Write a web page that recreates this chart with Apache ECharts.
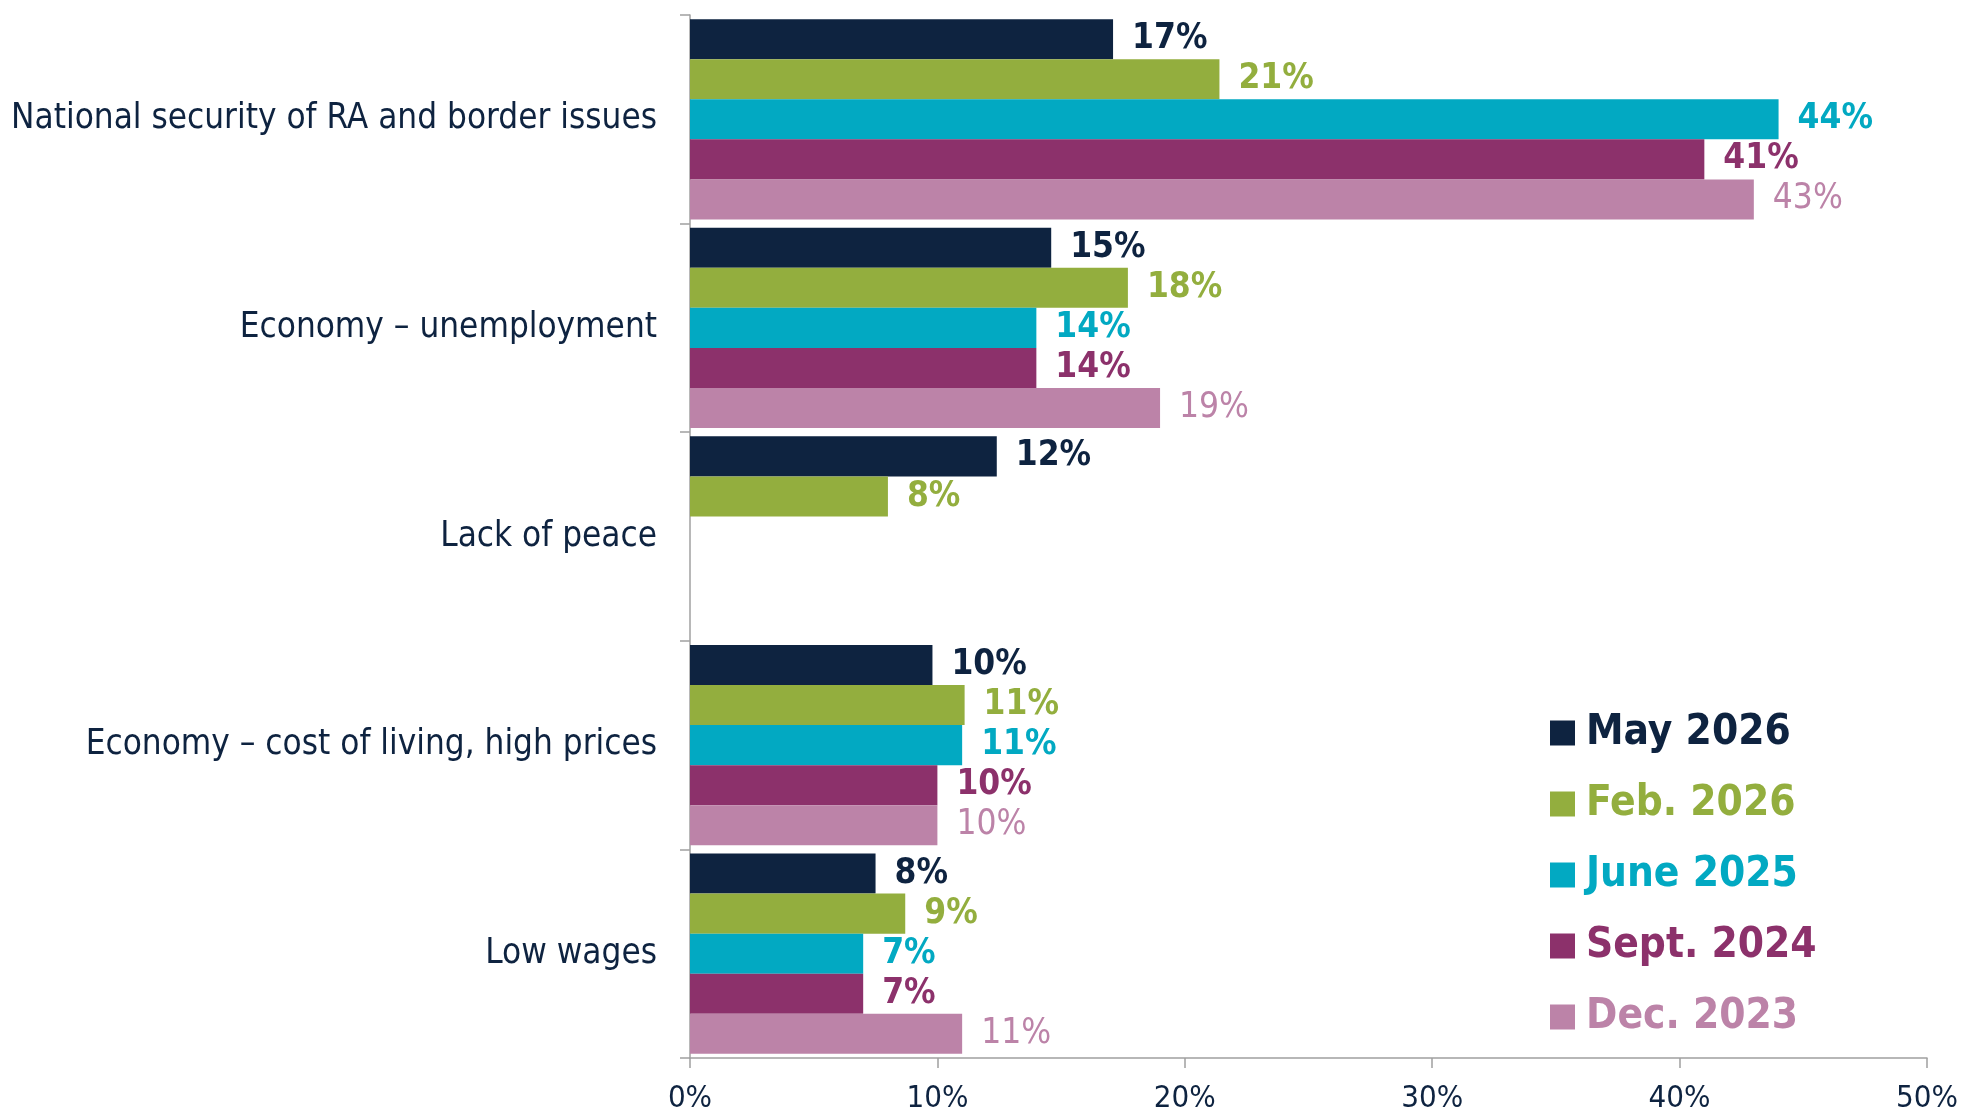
<!DOCTYPE html>
<html>
<head>
<meta charset="utf-8">
<script src="https://cdn.jsdelivr.net/npm/echarts@6/dist/echarts.min.js"></script>
<style>
html,body{margin:0;padding:0;background:#fff;}
#chart{width:1961px;height:1120px;}
</style>
</head>
<body>
<div id="chart"></div>
<script>
const categories = [
  'National security of RA and border issues',
  'Economy \u2013 unemployment',
  'Lack of peace',
  'Economy \u2013 cost of living, high prices',
  'Low wages'
];
const seriesNames = ['May 2026', 'Feb. 2026', 'June 2025', 'Sept. 2024', 'Dec. 2023'];
const may2026  = [17.1, 14.6, 12.4, 9.8, 7.5];
const feb2026  = [21.4, 17.7, 8.0, 11.1, 8.7];
const june2025 = [44.0, 14.0, null, 11.0, 7.0];
const sept2024 = [41.0, 14.0, null, 10.0, 7.0];
const dec2023  = [43.0, 19.0, null, 10.0, 11.0];
const xTicks = { min: 0, max: 50, interval: 10 };

const seriesData = [may2026, feb2026, june2025, sept2024, dec2023];
const colors = ['#0E2340', '#93AE3E', '#02A9C2', '#8C316B', '#BC83A8'];
const labelWeights = ['bold', 'bold', 'bold', 'bold', 'normal'];
const navy = '#0E2340';
const axisGray = '#A0A0A0';
const FONT = '"DejaVu Sans Condensed", "DejaVu Sans", sans-serif';

const chart = echarts.init(document.getElementById('chart'), null, { renderer: 'canvas' });

const series = seriesNames.map((name, i) => ({
  name: name,
  type: 'bar',
  data: seriesData[i],
  barGap: '0%',
  barCategoryGap: '4%',
  itemStyle: { color: colors[i] },
  label: {
    show: true,
    position: 'right',
    distance: 19,
    color: colors[i],
    fontFamily: FONT,
    fontSize: 35,
    fontWeight: labelWeights[i],
    formatter: p => (p.value == null ? '' : Math.round(p.value) + '%')
  },
  emphasis: { disabled: true }
}));

chart.setOption({
  animation: false,
  backgroundColor: '#ffffff',
  color: colors,
  grid: { left: 690, right: 33, top: 15, bottom: 62, containLabel: false },
  xAxis: {
    type: 'value',
    min: xTicks.min,
    max: xTicks.max,
    interval: xTicks.interval,
    axisLine: { show: true, lineStyle: { color: axisGray, width: 1.5 } },
    axisTick: { show: true, length: 10, lineStyle: { color: axisGray, width: 1.5 } },
    splitLine: { show: false },
    axisLabel: {
      formatter: '{value}%',
      color: navy,
      fontFamily: FONT,
      fontSize: 31,
      margin: 25
    }
  },
  yAxis: {
    type: 'category',
    inverse: true,
    data: categories,
    axisLine: { show: true, lineStyle: { color: axisGray, width: 1.5 } },
    axisTick: { show: true, length: 10, lineStyle: { color: axisGray, width: 1.5 } },
    axisLabel: {
      color: navy,
      fontFamily: FONT,
      fontSize: 34.8,
      margin: 33
    }
  },
  legend: {
    orient: 'vertical',
    left: 1545,
    top: 707,
    itemWidth: 25,
    itemHeight: 25,
    itemGap: 29,
    icon: 'rect',
    selectedMode: false,
    textStyle: {
      fontFamily: FONT,
      fontSize: 42,
      fontWeight: 'bold',
      lineHeight: 42,
      padding: [0, 0, 0, 6]
    },
    data: seriesNames.map((n, i) => ({ name: n, textStyle: { color: colors[i] } }))
  },
  series: series
});
</script>
</body>
</html>
